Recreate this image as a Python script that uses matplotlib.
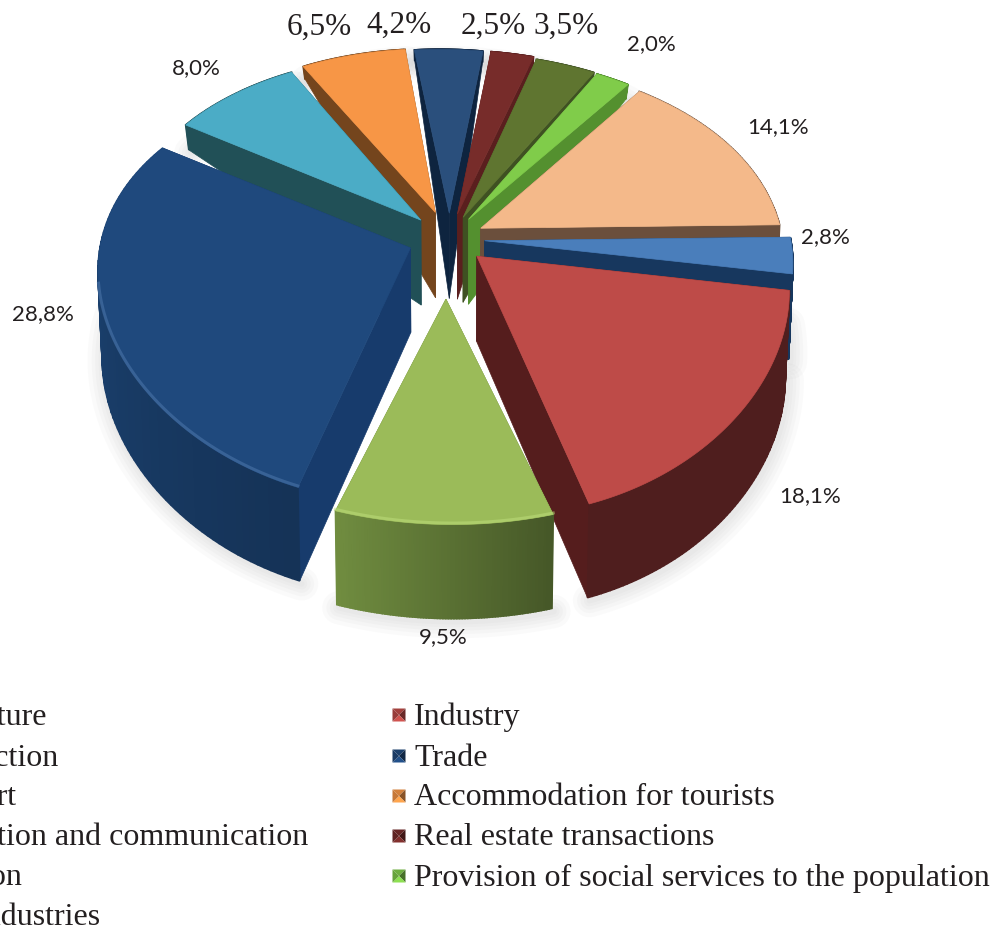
import numpy as np
import matplotlib
matplotlib.use("Agg")
import matplotlib.pyplot as plt
from matplotlib.colors import to_rgb
from matplotlib.patches import Polygon

sectors = ["Agriculture", "Industry", "Construction", "Trade", "Transport",
           "Accommodation for tourists", "Information and communication",
           "Real estate transactions", "Education",
           "Provision of social services to the population", "Other industries"]
shares = [2.8, 18.1, 9.5, 28.8, 8.0, 6.5, 4.2, 2.5, 3.5, 2.0, 14.1]

top_colors = ["#4a7ebb", "#be4b48", "#9bbb59", "#1f497d", "#4bacc6", "#f79646",
              "#2a4f7c", "#772c2a", "#5f7530", "#80cc4a", "#f4b98a"]
wall_colors = ["#17375e", "#4f1e1e", "#66803a", "#1a3f6c", "#215057", "#74451d",
               "#0e243f", "#5a1f1e", "#3f5122", "#54902f", "#6b4f3c"]
cut_colors = ["#17375e", "#551d1d", "#66803a", "#173b6c", "#215057", "#74451d",
              "#0e243f", "#5a1f1e", "#3f5122", "#54902f", "#6b4f3c"]
wall_grad = [(1, 1), (1, 1), (1.1, 0.68), (1.12, 0.8), (1, 1), (1, 1),
             (1, 1), (1, 1), (1, 1), (1, 1), (1, 1)]
rim_alpha = [0, 0, 0.5, 0.7, 0, 0, 0, 0, 0, 0, 0]
explode = [0.12, 0.125, 0.28, 0.13, 0.13, 0.14, 0.13, 0.13, 0.12, 0.12, 0.12]
radius_u = [1, 1, 1.08, 1.01, 0.97, 0.95, 0.95, 1, 1, 1, 0.985]
radius_v = [1, 1, 0.83, 1, 1, 1, 1, 1, 1, 1, 1]
skew = [0, 0.05, 0.025, 0, 0, 0.02, 0.033, 0.04, 0.05, 0.06, 0.05]

# pie geometry, in pixels
cx, cy = 448, 240
rx, ry = 306, 203.6
persp_x, persp_y = 0.1, 0.188
start_angle = 1.0


def project(u, v):
    return cx + rx * u / (1 + persp_x * v), cy - ry * v / (1 + persp_y * v)


def depth(v):
    return np.interp(v, [-1.3, -0.9, 0, 0.2, 0.5, 0.9, 1.15], [95, 93, 84, 86, 30, 14, 10])


def lower(x, y, v):
    # walls lean a little towards the point below the camera
    t = 0.012
    return x + t * (cx - x), y + depth(v)


def shade(color, f):
    return tuple(np.clip(np.array(to_rgb(color)) * f, 0, 1))


fig = plt.figure(figsize=(9.98, 9.29), dpi=100)
ax = fig.add_axes([0, 0, 1, 1])
ax.set_xlim(0, 998)
ax.set_ylim(929, 0)
ax.axis("off")

edges = start_angle - np.concatenate([[0], np.cumsum(shares)]) * 3.6
mids = (edges[:-1] + edges[1:]) / 2
off_u = np.array(explode) * np.cos(np.radians(mids))
off_v = np.array(explode) * np.sin(np.radians(mids))


def wedge_points(i):
    th = np.radians(np.linspace(edges[i + 1], edges[i], 80))
    dv = radius_v[i] * np.sin(th)
    # skew leans the slice sideways with distance from its tip
    du = radius_u[i] * np.cos(th) - skew[i] * dv
    return off_u[i] + du, off_v[i] + dv, th


# soft shadow on the ground under the slices
for i in range(len(shares)):
    u, v, th = wedge_points(i)
    x, y = project(u, v)
    xb, yb = lower(x, y, v)
    for lw in [24, 18, 13, 8, 4]:
        ax.plot(xb + 2, yb + 3, color="#808080", alpha=0.035, lw=lw,
                solid_capstyle="round", zorder=1)

# painter's order, back slices first
order = np.argsort(-np.sin(np.radians(mids)) * (1 + np.array(explode)))
for z, i in enumerate(order):
    base = 2 + z
    tip_x, tip_y = project(off_u[i], off_v[i])
    tip_xb, tip_yb = lower(tip_x, tip_y, off_v[i])
    u, v, th = wedge_points(i)
    x, y = project(u, v)
    xb, yb = lower(x, y, v)

    # the two cut faces
    for k in [0, -1]:
        pts = [(tip_x, tip_y), (x[k], y[k]), (xb[k], yb[k]), (tip_xb, tip_yb)]
        ax.add_patch(Polygon(pts, closed=True, fc=cut_colors[i], ec=cut_colors[i],
                             lw=0.5, zorder=base))

    # outer wall, shaded strip by strip
    grad = np.linspace(wall_grad[i][0], wall_grad[i][1], len(th))
    for k in range(len(th) - 1):
        col = shade(wall_colors[i], grad[k])
        pts = [(x[k], y[k]), (x[k + 1], y[k + 1]), (xb[k + 1], yb[k + 1]), (xb[k], yb[k])]
        ax.add_patch(Polygon(pts, closed=True, fc=col, ec=col, lw=1.2, zorder=base))

    # top face
    pts = [(tip_x, tip_y)] + list(zip(x, y))
    ax.add_patch(Polygon(pts, closed=True, fc=top_colors[i], ec=top_colors[i],
                         lw=0.5, zorder=base + 0.2))

    # bevel highlight along the front rim
    if rim_alpha[i] > 0:
        front = np.sin(th) < -0.15
        light = tuple(np.clip(np.array(to_rgb(top_colors[i])) + 0.14, 0, 1))
        ax.plot(x[front], y[front] - 1.5, color=light, lw=2.2, alpha=rim_alpha[i],
                zorder=base + 0.3)

# value labels
label_x = [825, 810, 443, 43, 196, 319, 399, 493, 566, 651, 778]
label_y = [237, 496, 637, 314, 68, 27, 25, 26, 26, 44, 127]
serif_labels = [5, 6, 7, 8]
for i, share in enumerate(shares):
    txt = f"{share:.1f}%".replace(".", ",")
    if i in serif_labels:
        ax.text(label_x[i], label_y[i], txt, ha="center", va="center",
                family="Liberation Serif", fontsize=22.5, color="#231f20", zorder=60)
    else:
        ax.text(label_x[i], label_y[i], txt, ha="center", va="center",
                family="Lato", fontsize=16, color="#231f20", zorder=60)

# legend, two columns
left_col = [0, 2, 4, 6, 8, 10]
left_ends = [47, 59, 17, 308, 22, 100]
right_col = [1, 3, 5, 7, 9]
legend_y = [717, 758, 798, 838, 878, 918]
for row, i in enumerate(left_col):
    ax.text(left_ends[row], legend_y[row], sectors[i], ha="right", va="center",
            family="Liberation Serif", fontsize=23, color="#231f20", zorder=60)
for row, i in enumerate(right_col):
    ax.text(414, legend_y[row], sectors[i], ha="left", va="center",
            family="Liberation Serif", fontsize=23, color="#231f20", zorder=60)
    mx, my, h = 399, legend_y[row] - 1, 6.5
    c = top_colors[i]
    corners = [(mx - h, my - h), (mx + h, my - h), (mx + h, my + h), (mx - h, my + h)]
    faces = [(0.85, [0, 1]), (0.55, [1, 2]), (1.1, [2, 3]), (0.8, [3, 0])]
    for f, (a, b) in faces:
        ax.add_patch(Polygon([corners[a], corners[b], (mx, my)], closed=True,
                             fc=shade(c, f), ec="none", zorder=60))

fig.savefig("out.png", dpi=100)
